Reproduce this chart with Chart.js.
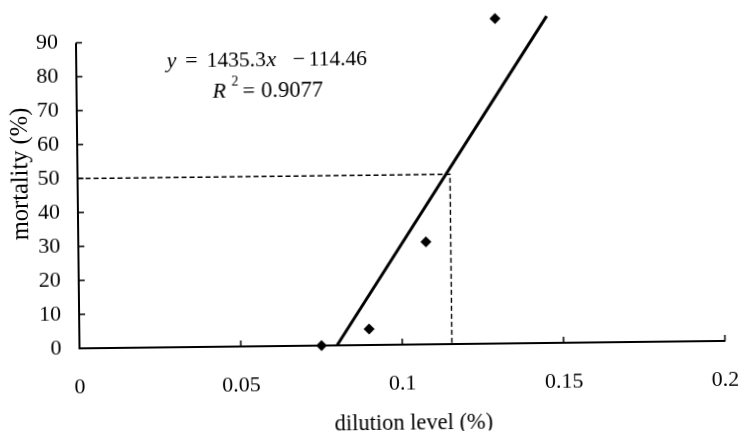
<!DOCTYPE html>
<html>
<head>
<meta charset="utf-8">
<script src="https://cdn.jsdelivr.net/npm/chart.js@4.4.1/dist/chart.umd.min.js"></script>
<style>
    html, body { margin: 0; padding: 0; background: #fff; overflow: hidden; }
    #wrap { width: 741px; height: 432px; overflow: hidden; }
    /* the scanned figure sits a little askew */
    #doseChart { transform: rotate(-0.66deg); transform-origin: 50% 50%; }
</style>
</head>
<body>
<div id="wrap"><canvas id="doseChart" width="741" height="432"></canvas></div>
<script>
// observed points
const dilution = [0.075, 0.0898, 0.1077, 0.1299];
const mortality = [0, 4.7, 30.2, 95.7];

// fitted line  y = 1435.3x - 114.46 (ends as drawn in the figure)
const fitX = [0.0798, 0.1459];
const fitY = [0, 96.3];

// LD50 guide (dashed)
const ld50X = [0, 0.1154, 0.1154];
const ld50Y = [50, 50, 0];

const xTickValues = [0, 0.05, 0.1, 0.15, 0.2];
const xTickLabels = ['0', '0.05', '0.1', '0.15', '0.2'];
const yTickValues = [0, 10, 20, 30, 40, 50, 60, 70, 80, 90];
const yTickLabels = ['0', '10', '20', '30', '40', '50', '60', '70', '80', '90'];
const yAxisTop = 90;   // axis line stops here, data runs above it

const serif = '"Liberation Serif", "Times New Roman", serif';
const ink = '#000';

const toPoints = (xs, ys) => xs.map((x, i) => ({ x: x, y: ys[i] }));

// y axis line (only up to 90) and tick marks that point into the plot
const innerTicks = {
    id: 'innerTicks',
    afterDraw(chart) {
        const { ctx, chartArea, scales } = chart;
        ctx.save();
        ctx.strokeStyle = ink;

        ctx.lineWidth = 2;
        ctx.beginPath();
        ctx.moveTo(chartArea.left, scales.y.getPixelForValue(0) + 1);
        ctx.lineTo(chartArea.left, scales.y.getPixelForValue(yAxisTop));
        ctx.stroke();

        ctx.lineWidth = 1.5;
        xTickValues.forEach(v => {
            if (v === 0) return;
            const px = scales.x.getPixelForValue(v);
            ctx.beginPath();
            ctx.moveTo(px, chartArea.bottom);
            ctx.lineTo(px, chartArea.bottom - 6);
            ctx.stroke();
        });
        yTickValues.forEach(v => {
            if (v === 0) return;
            const py = scales.y.getPixelForValue(v);
            ctx.beginPath();
            ctx.moveTo(chartArea.left, py);
            ctx.lineTo(chartArea.left + 6, py);
            ctx.stroke();
        });
        ctx.restore();
    }
};

// axis titles and the regression equation
const figureText = {
    id: 'figureText',
    afterDraw(chart) {
        const ctx = chart.ctx;
        ctx.save();
        ctx.fillStyle = ink;
        ctx.textBaseline = 'alphabetic';

        // writes a piece of text, returns where it ends
        const put = (txt, x, y, size, italic) => {
            ctx.font = (italic ? 'italic ' : '') + size + 'px ' + serif;
            ctx.textAlign = 'left';
            ctx.fillText(txt, x, y);
            return x + ctx.measureText(txt).width;
        };

        // y = 1435.3x - 114.46
        put('y', 168.5, 65, 22, true);
        put('=', 187, 65, 22, false);
        let end = put('1435.3', 208.5, 65, 21.5, false);
        put('x', end + 0.5, 65, 22, true);
        put('\u2212', 294.5, 65, 22, false);
        put('114.46', 310.5, 65, 21.5, false);

        // R^2 = 0.9077
        put('R', 214, 96, 22, true);
        put('2', 233, 84, 14, false);
        put('=', 244, 96, 22, false);
        put('0.9077', 262.5, 96, 22.5, false);

        // x title
        ctx.font = '22.5px ' + serif;
        ctx.textAlign = 'center';
        ctx.fillText('dilution level (%)', 411.5, 430);

        // y title
        ctx.translate(27.5, 170);
        ctx.rotate(-Math.PI / 2);
        ctx.font = '24.5px ' + serif;
        ctx.textAlign = 'center';
        ctx.fillText('mortality (%)', 0, 0);

        ctx.restore();
    }
};

new Chart(document.getElementById('doseChart').getContext('2d'), {
    type: 'scatter',
    data: {
        datasets: [
            {
                label: 'observed',
                data: toPoints(dilution, mortality),
                pointStyle: 'rectRot',
                pointRadius: 5.5,
                backgroundColor: ink,
                borderColor: ink,
                borderWidth: 0,
                showLine: false,
                clip: false
            },
            {
                label: 'fit',
                data: toPoints(fitX, fitY),
                showLine: true,
                borderColor: ink,
                borderWidth: 3,
                pointRadius: 0,
                clip: false
            },
            {
                label: 'LD50',
                data: toPoints(ld50X, ld50Y),
                showLine: true,
                borderColor: ink,
                borderWidth: 1.4,
                borderDash: [5, 3],
                pointRadius: 0,
                clip: false
            }
        ]
    },
    options: {
        responsive: false,
        animation: false,
        events: [],
        layout: { padding: { top: 2.8, right: 17.5, left: 0, bottom: 0 } },
        plugins: {
            legend: { display: false },
            tooltip: { enabled: false },
            title: { display: false }
        },
        scales: {
            x: {
                type: 'linear',
                min: 0,
                max: 0.2,
                afterBuildTicks: scale => {
                    scale.ticks = xTickValues.map(v => ({ value: v }));
                },
                afterFit: scale => {
                    scale.height = 87;
                    scale.paddingLeft = 0;
                    scale.paddingRight = 0;
                },
                ticks: {
                    callback: (value, index) => xTickLabels[index],
                    font: { family: serif, size: 22 },
                    color: ink,
                    padding: 26,
                    maxRotation: 0,
                    autoSkip: false
                },
                grid: { display: false, drawTicks: false, tickLength: 0 },
                border: { display: true, color: ink, width: 2 }
            },
            y: {
                type: 'linear',
                min: 0,
                max: 100,
                afterBuildTicks: scale => {
                    scale.ticks = yTickValues.map(v => ({ value: v }));
                },
                afterFit: scale => {
                    scale.width = 78;
                    scale.paddingTop = 0;
                    scale.paddingBottom = 0;
                },
                ticks: {
                    callback: (value, index) => yTickLabels[index],
                    font: { family: serif, size: 22 },
                    color: ink,
                    padding: 18,
                    autoSkip: false
                },
                grid: { display: false, drawTicks: false, tickLength: 0 },
                border: { display: false }
            }
        }
    },
    plugins: [innerTicks, figureText]
});
</script>
</body>
</html>
